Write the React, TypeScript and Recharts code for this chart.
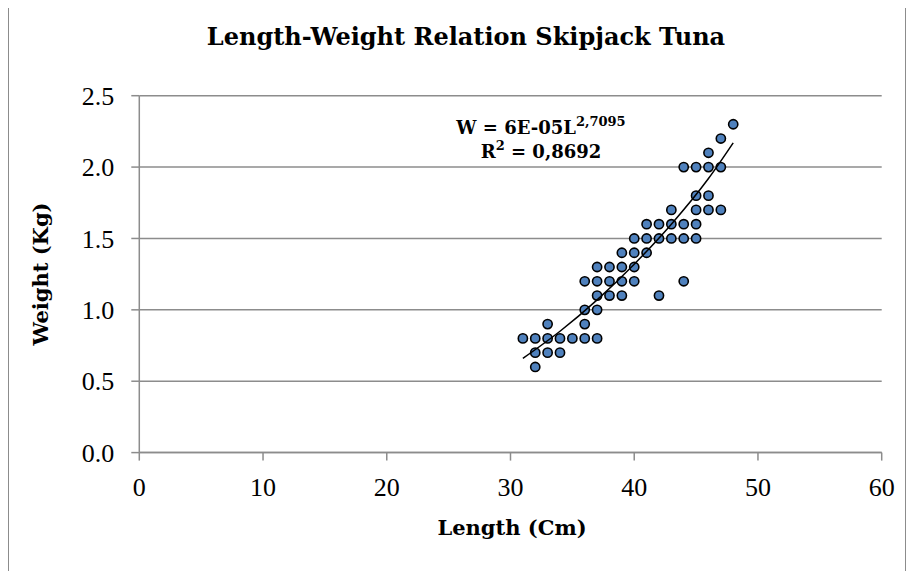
import * as React from "react";
import {
  ScatterChart,
  Scatter,
  XAxis,
  YAxis,
  CartesianGrid,
} from "recharts";

const lengths = [
  31, 32, 32, 32, 33, 33, 33, 34, 34, 35, 36, 36, 36, 36, 37, 37, 37, 37, 37,
  38, 38, 38, 39, 39, 39, 39, 40, 40, 40, 40, 41, 41, 41, 42, 42, 42, 43, 43,
  43, 44, 44, 44, 44, 45, 45, 45, 45, 45, 46, 46, 46, 46, 47, 47, 47, 48,
];
const weights = [
  0.8, 0.6, 0.7, 0.8, 0.7, 0.8, 0.9, 0.7, 0.8, 0.8, 0.8, 0.9, 1.0, 1.2, 0.8,
  1.0, 1.1, 1.2, 1.3, 1.1, 1.2, 1.3, 1.1, 1.2, 1.3, 1.4, 1.2, 1.3, 1.4, 1.5,
  1.4, 1.5, 1.6, 1.1, 1.5, 1.6, 1.5, 1.6, 1.7, 1.2, 1.5, 1.6, 2.0, 1.5, 1.6,
  1.7, 1.8, 2.0, 1.7, 1.8, 2.0, 2.1, 1.7, 2.0, 2.2, 2.3,
];

// power trendline as drawn
const trendLengths = [31, 34, 37, 40, 43, 46, 48];
const trendWeights = [0.66, 0.85, 1.07, 1.32, 1.6, 1.92, 2.17];

const xTicks = [0, 10, 20, 30, 40, 50, 60];
const yTicks = [0, 0.5, 1.0, 1.5, 2.0, 2.5];

const points = lengths.map((l, i) => ({ x: l, y: weights[i] }));
const trend = trendLengths.map((l, i) => ({ x: l, y: trendWeights[i] }));

const BOLD = "'DejaVu Serif', serif";
const TICKFONT = "'Liberation Serif', serif";
const GRID = "#8c8c8c";

const tickStyle = { fontSize: 26, fill: "#000", fontFamily: TICKFONT };

const Dot = (props: any) => {
  const { cx, cy } = props;
  if (cx == null || cy == null) return <g />;
  return <circle cx={cx} cy={cy} r={4.6} fill="#4f81bd" stroke="#000" strokeWidth={1.6} />;
};

const NoDot = () => <g />;

export default function App() {
  return (
    <div
      style={{
        position: "relative",
        width: 896,
        height: 570,
        marginTop: -1,
        border: "1px solid #8c8c8c",
        background: "#fff",
      }}
    >
      <ScatterChart
        width={896}
        height={560}
        margin={{ top: 87.7, right: 23.3, bottom: 75.4, left: 70.3 }}
      >
        <CartesianGrid horizontal vertical={false} stroke={GRID} strokeWidth={1.5} />
        <XAxis
          type="number"
          dataKey="x"
          domain={[0, 60]}
          ticks={xTicks}
          stroke={GRID}
          strokeWidth={1.5}
          tickSize={8}
          tickMargin={17}
          height={40}
          tick={tickStyle}
          interval={0}
        />
        <YAxis
          type="number"
          dataKey="y"
          domain={[0, 2.5]}
          ticks={yTicks}
          stroke={GRID}
          strokeWidth={1.5}
          tickSize={8}
          tickMargin={17}
          width={60}
          tick={tickStyle}
          tickFormatter={(v: number) => v.toFixed(1)}
          interval={0}
        />
        <Scatter data={points} shape={Dot} isAnimationActive={false} />
        <Scatter
          data={trend}
          shape={NoDot}
          line={{ stroke: "#000", strokeWidth: 1.5 }}
          lineJointType="monotone"
          isAnimationActive={false}
        />
      </ScatterChart>
      <svg
        width={896}
        height={570}
        style={{ position: "absolute", left: 0, top: 0, pointerEvents: "none" }}
        fontFamily={BOLD}
        fontWeight="bold"
      >
        <text x={457} y={37} textAnchor="middle" fontSize={24}>
          Length-Weight Relation Skipjack Tuna
        </text>
        <text x={503} y={527} textAnchor="middle" fontSize={21}>
          Length (Cm)
        </text>
        <text
          x={0}
          y={0}
          textAnchor="middle"
          fontSize={21}
          transform="translate(39 266) rotate(-90)"
        >
          Weight (Kg)
        </text>
        <text x={532} y={126.3} textAnchor="middle" fontSize={18}>
          W = 6E-05L
          <tspan fontSize={13} dy={-8}>
            2,7095
          </tspan>
        </text>
        <text x={532} y={150.3} textAnchor="middle" fontSize={18}>
          R
          <tspan fontSize={13} dy={-8}>
            2
          </tspan>
          <tspan dy={8}> = 0,8692</tspan>
        </text>
      </svg>
    </div>
  );
}
